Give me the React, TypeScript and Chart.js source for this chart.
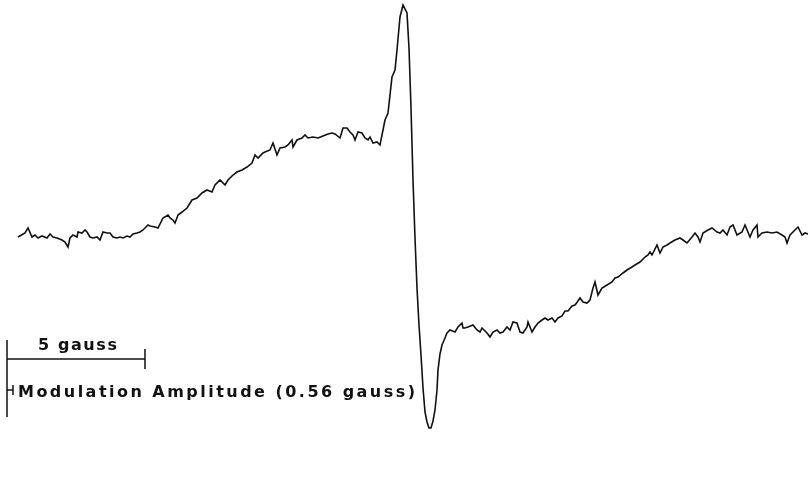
import React, { useEffect, useRef } from "react";
import { Chart, registerables } from "chart.js";

Chart.register(...registerables);

// Magnetic field sweep position (recorder channel) and pen deflection (downward positive)
const field: number[] = [
  18, 25, 28, 32, 35, 38, 42, 47, 50, 53, 57, 62, 65, 68, 70, 73, 77, 78, 82, 85, 87, 90, 93, 97, 100,
  103, 107, 110, 113, 117, 120, 123, 127, 130, 133, 137, 140, 143, 148,
  150, 155, 158, 163, 168, 170, 173, 175, 178, 182, 187, 192, 197, 202, 207, 212, 215, 220, 225, 228,
  233, 237, 242, 247, 252, 255, 258, 263,
  265, 270, 273, 277, 280, 285, 288, 292, 293, 297, 302, 305, 308, 313, 318, 323, 328, 332, 335, 340,
  343, 347, 350, 353, 355, 358, 362, 365, 368, 370, 373, 377, 380,
  383, 385, 388, 392, 395, 397, 400, 403, 407, 409, 411, 413, 415, 417, 419, 421, 423, 425, 427, 429,
  431, 433, 435, 437, 438, 440, 442, 445, 447, 450, 455, 458, 462, 463, 465, 468, 473, 477, 480, 482,
  487, 490, 493, 497, 500, 503, 507, 510, 513, 517, 520, 523, 527, 528, 532, 535, 538, 542, 545, 548,
  552, 555, 558, 562, 565, 568, 572, 575, 578, 580, 583, 587, 590, 593, 595, 598, 602, 607, 612, 615,
  618, 623, 627, 632, 635, 640, 645, 648, 650, 652, 657, 660, 663, 667, 670, 675, 680, 683, 687, 692,
  695, 698, 700, 703, 708, 712, 717, 720, 723, 727, 730, 733, 737, 742, 745, 750, 753, 757, 758, 762,
  767, 772, 777, 782, 785, 787, 790, 795, 798, 802, 805, 808,
];

const signal: number[] = [
  237, 233, 228, 237, 235, 238, 236, 238, 234, 237, 238, 240, 242, 247, 238, 235, 237, 232, 233, 230, 232, 237, 238, 237, 240,
  232, 233, 233, 237, 238, 237, 238, 236, 237, 234, 233, 232, 230, 225,
  226, 227, 228, 218, 215, 218, 220, 223, 215, 212, 208, 200, 198, 193, 190, 192, 185, 180, 185, 180,
  175, 172, 170, 167, 163, 155, 158, 153,
  152, 150, 143, 155, 148, 147, 145, 140, 147, 140, 138, 135, 138, 137, 138, 136, 134, 133, 134, 138,
  128, 128, 132, 135, 140, 132, 133, 138, 140, 137, 143, 142, 145,
  130, 120, 113, 77, 70, 50, 17, 5, 13, 48, 108, 180, 238, 288, 325, 355, 388, 412, 422, 428,
  428, 421, 410, 390, 370, 354, 345, 338, 333, 330, 332, 327, 323, 328, 328, 327, 325, 330, 332, 328,
  333, 337, 332, 330, 333, 332, 327, 330, 322, 323, 332, 333, 327, 322, 332, 327, 323, 320, 318, 320,
  318, 322, 318, 316, 311, 311, 306, 305, 301, 298, 302, 303, 300, 288, 282, 295, 288, 285, 282, 278,
  277, 273, 270, 267, 265, 262, 257, 255, 252, 255, 245, 253, 247, 245, 243, 240, 238, 240, 243, 237,
  233, 237, 242, 233, 230, 228, 232, 233, 230, 235, 227, 225, 235, 232, 225, 237, 230, 225, 237, 233,
  232, 233, 232, 235, 237, 243, 235, 230, 227, 235, 233, 234,
];

// Scale bar (5 gauss) and modulation amplitude marker, in the same units
const scaleBarX: number[] = [7, 145];
const scaleBarY: number[] = [359];
const scaleBarTickY: number[] = [349, 369];
const leftRuleY: number[] = [340, 417];
const modMarkX: number[] = [7, 13];
const modMarkY: number[] = [390];
const modMarkTickY: number[] = [385, 395];

const labelTexts: string[] = ["5 gauss", "Modulation Amplitude (0.56 gauss)"];
const labelStartX: number[] = [38, 18];
const labelEndX: number[] = [117, 415];
const labelBaseY: number[] = [350, 397];

const INK = "#111111";

const labelPlugin = {
  id: "epr-labels",
  afterDatasetsDraw(chart: any) {
    const { ctx, scales } = chart;
    const xs = scales.x;
    const ys = scales.y;
    ctx.save();
    ctx.fillStyle = INK;
    ctx.textBaseline = "alphabetic";
    ctx.textAlign = "left";
    ctx.font = "bold 16px 'DejaVu Sans', sans-serif";
    labelTexts.forEach((t, i) => {
      const x0 = xs.getPixelForValue(labelStartX[i]);
      const x1 = xs.getPixelForValue(labelEndX[i]);
      const y = ys.getPixelForValue(labelBaseY[i]);
      (ctx as any).letterSpacing = "0px";
      const w0 = ctx.measureText(t).width;
      const n = t.length;
      const sp = Math.max(0, (x1 - x0 - w0) / (n - 1));
      (ctx as any).letterSpacing = sp + "px";
      ctx.fillText(t, x0, y);
    });
    (ctx as any).letterSpacing = "0px";
    ctx.restore();
  },
};

export default function App() {
  const ref = useRef<HTMLCanvasElement | null>(null);
  useEffect(() => {
    if (!ref.current) return;
    const line = (pts: { x: number; y: number }[], w = 1.5) => ({
      data: pts,
      borderColor: INK,
      borderWidth: w,
      pointRadius: 0,
      tension: 0,
      fill: false,
      clip: false as any,
    });
    const spectrum = field.map((x, i) => ({ x, y: signal[i] }));
    const chart = new Chart(ref.current, {
      type: "line",
      data: {
        datasets: [
          line(spectrum, 1.6),
          line([{ x: scaleBarX[0], y: leftRuleY[0] }, { x: scaleBarX[0], y: leftRuleY[1] }]),
          line([{ x: scaleBarX[0], y: scaleBarY[0] }, { x: scaleBarX[1], y: scaleBarY[0] }]),
          line([{ x: scaleBarX[1], y: scaleBarTickY[0] }, { x: scaleBarX[1], y: scaleBarTickY[1] }]),
          line([{ x: modMarkX[0], y: modMarkY[0] }, { x: modMarkX[1], y: modMarkY[0] }]),
          line([{ x: modMarkX[1], y: modMarkTickY[0] }, { x: modMarkX[1], y: modMarkTickY[1] }]),
        ] as any,
      },
      options: {
        animation: false,
        responsive: false,
        devicePixelRatio: 1,
        layout: { padding: 0 },
        parsing: false as any,
        normalized: true,
        plugins: { legend: { display: false }, tooltip: { enabled: false } },
        scales: {
          x: { type: "linear", min: 0, max: 810, display: false },
          y: { type: "linear", min: 0, max: 485, reverse: true, display: false },
        },
      },
      plugins: [labelPlugin],
    });
    return () => chart.destroy();
  }, []);
  return (
    <div style={{ position: "fixed", left: 0, top: 0, width: 810, height: 485, background: "#fff" }}>
      <canvas ref={ref} width={810} height={485} style={{ width: 810, height: 485, display: "block" }} />
    </div>
  );
}
